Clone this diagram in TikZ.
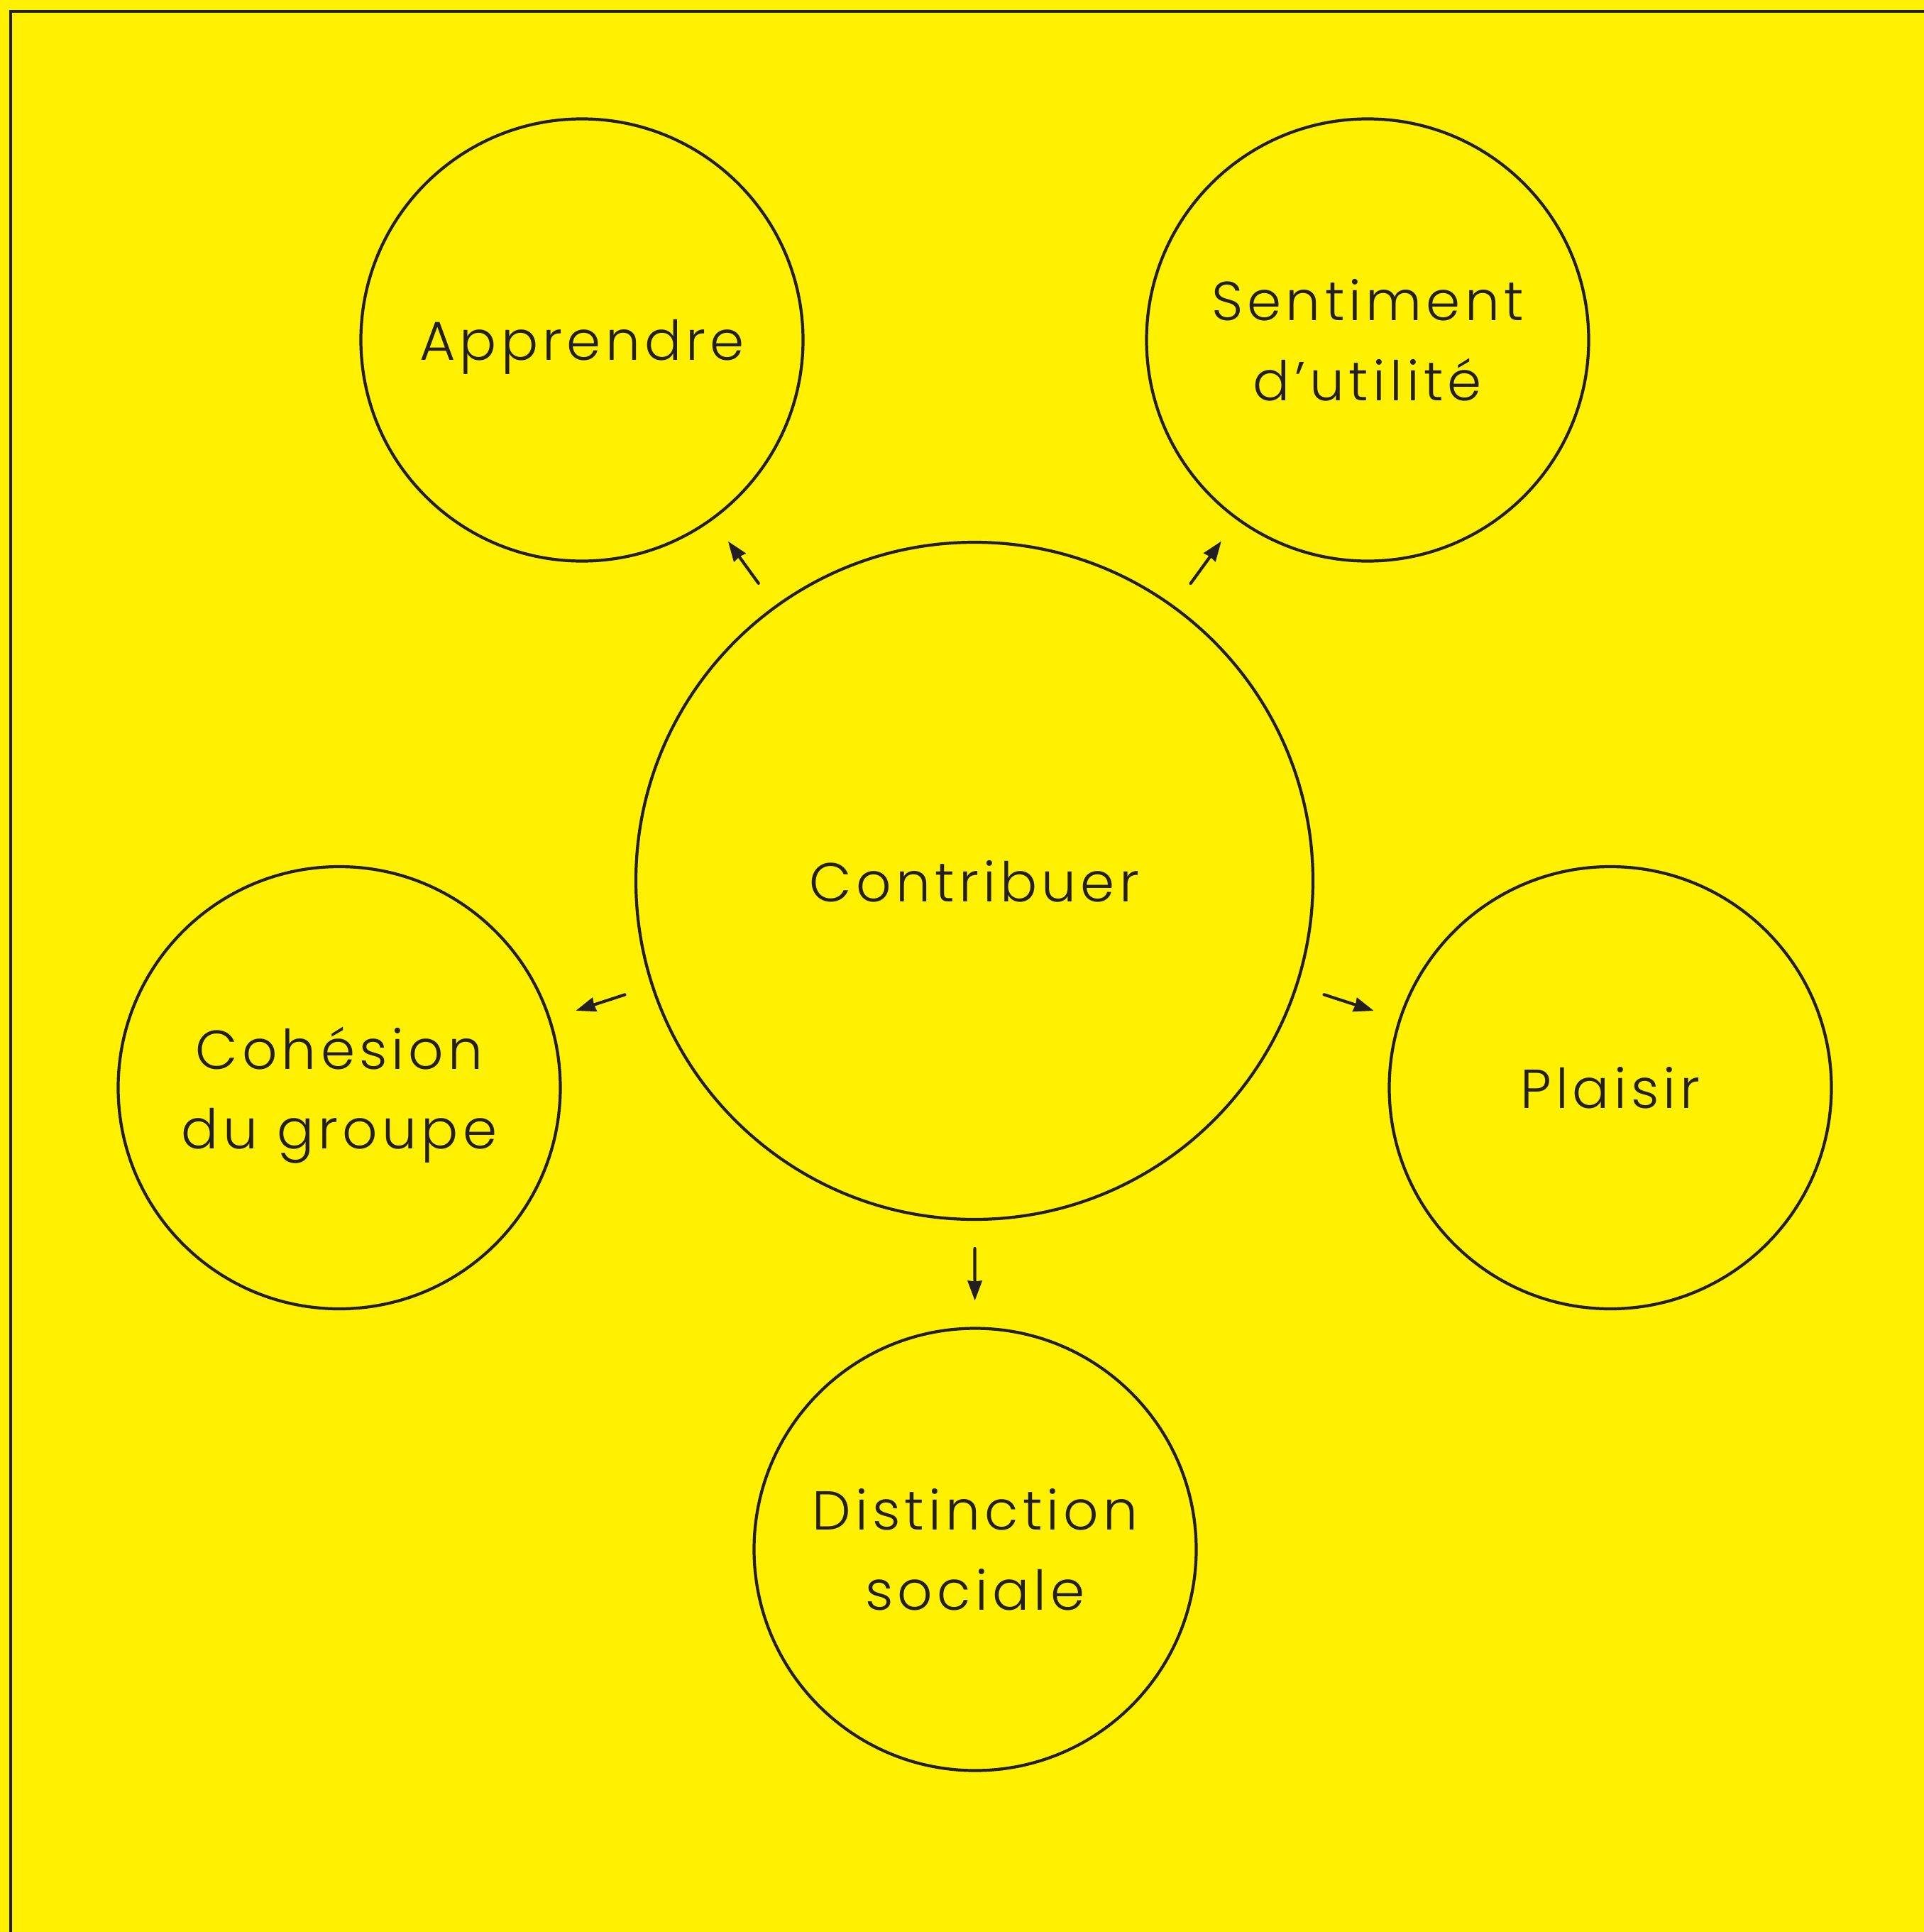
\documentclass[tikz,border=0pt]{standalone}
\usepackage{fontspec}
\setmainfont{Poppins}[UprightFont=* Light, LetterSpace=8]
\usetikzlibrary{arrows.meta}
\definecolor{bgyellow}{HTML}{FFF100}
\definecolor{inkdark}{HTML}{231F20}

\begin{document}
\begin{tikzpicture}[
    % Node styles
    bigcircle/.style={
        circle, draw=inkdark, line width=1.2pt,
        minimum size=9.54cm, inner sep=0pt, outer sep=0pt,
        font=\fontsize{22}{32}\selectfont, align=center, text=inkdark,
        text depth=0pt
    },
    smallcircle/.style={
        circle, draw=inkdark, line width=1.2pt,
        minimum size=6.23cm, inner sep=0pt, outer sep=0pt,
        font=\fontsize{22}{32}\selectfont, align=center, text=inkdark,
        text depth=0pt
    },
    arrow/.style={
        -{Stealth[length=0.28cm, width=0.2cm, inset=0.01cm]},
        line width=1.2pt, inkdark, line cap=round,
        shorten <=0.41cm, shorten >=0.39cm
    },
    frameline/.style={
        draw=inkdark, line width=1.2pt
    }
]

% --- Page and frame ---
\useasboundingbox (0,0) rectangle (27.11,-27.22);
\fill[bgyellow] (0,0) rectangle (27.11,-27.22);
\coordinate (frametr) at (27.11,-0.16);
\coordinate (frametl) at (0.15,-0.16);
\coordinate (framebl) at (0.15,-27.22);
\draw[frameline] (frametr) -- (frametl) -- (framebl);

% --- Nodes ---
\node[bigcircle] (contrib) at (13.73,-12.41) {Contribuer};
\node[smallcircle] (apprendre) at (8.20,-4.79) {Apprendre};
\node[smallcircle] (utilite) at (19.27,-4.79) {Sentiment\\d’utilité};
\node[smallcircle] (cohesion) at (4.78,-15.325) {Cohésion\\du groupe};
\node[smallcircle] (plaisir) at (22.69,-15.325) {Plaisir};
\node[smallcircle] (distinction) at (13.74,-21.83) {Distinction\\sociale};

% --- Arrows ---
\draw[arrow] (contrib) -- (apprendre);
\draw[arrow] (contrib) -- (utilite);
\draw[arrow] (contrib) -- (cohesion);
\draw[arrow] (contrib) -- (plaisir);
\draw[arrow] (contrib) -- (distinction);

\end{tikzpicture}
\end{document}
